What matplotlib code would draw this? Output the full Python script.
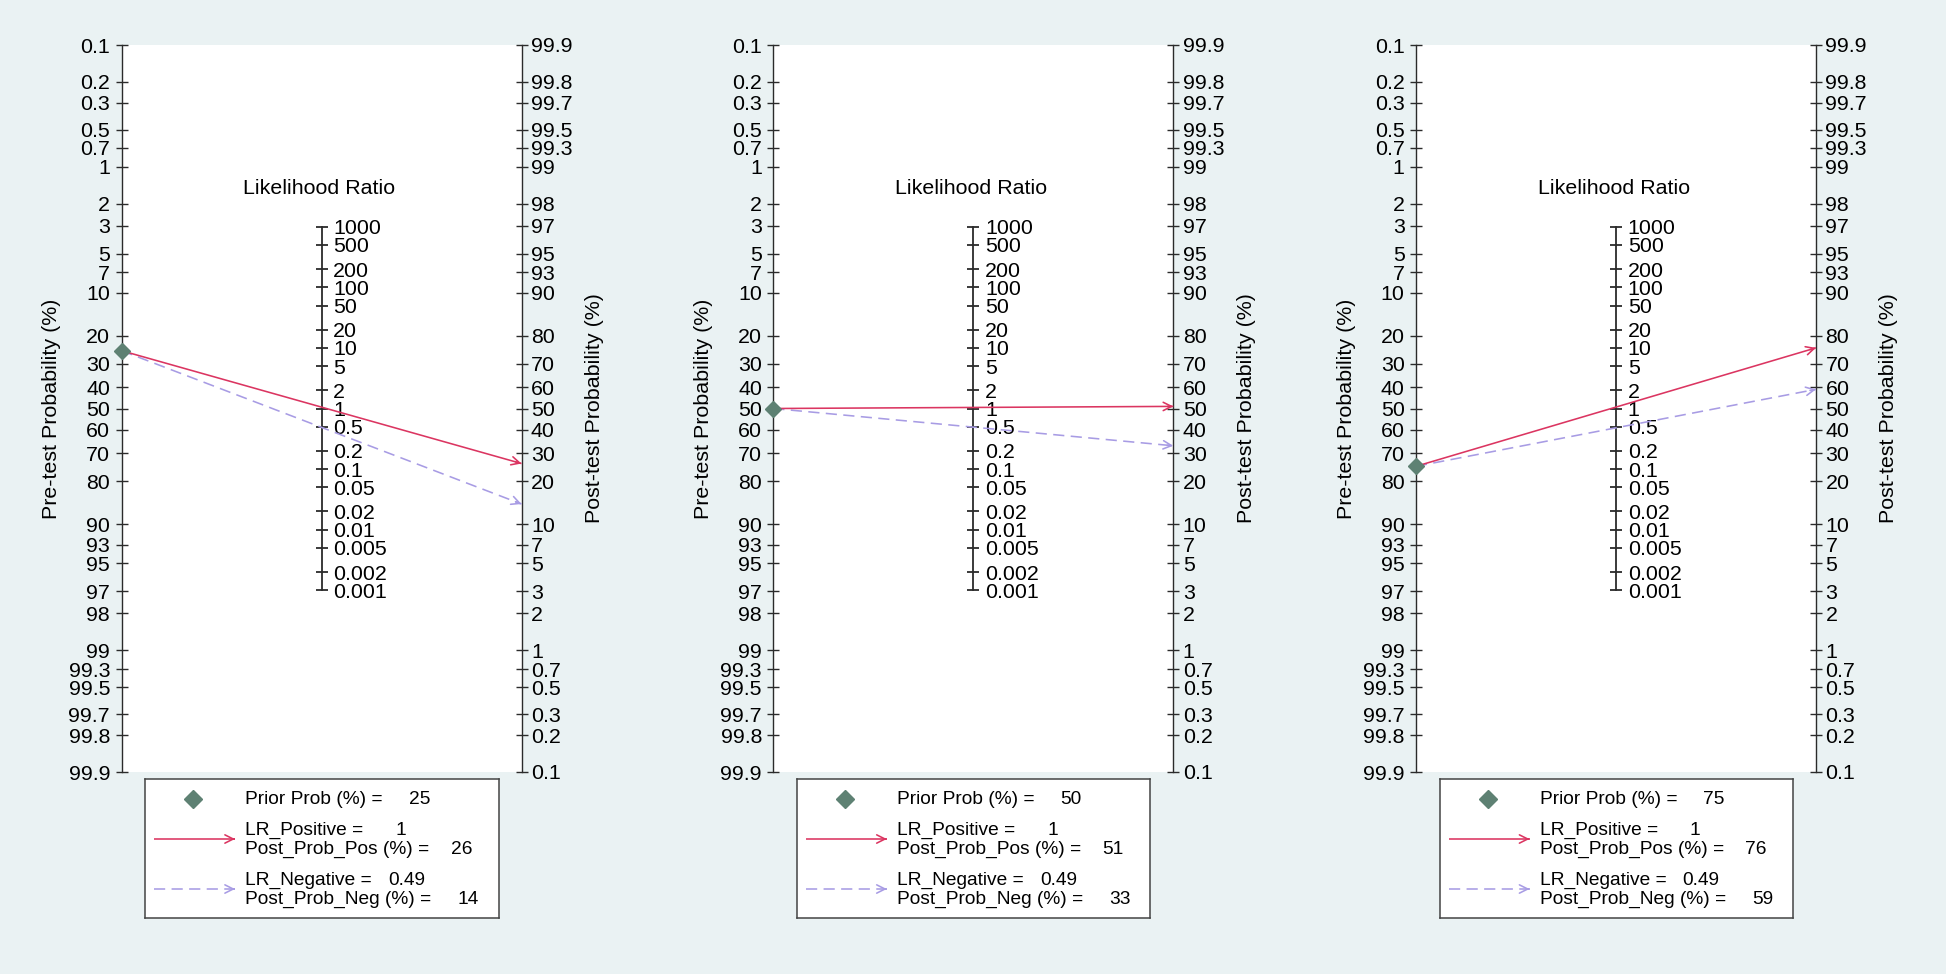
"""Fagan nomograms for three prior probabilities (25 / 50 / 75 %)."""

import numpy as np
import matplotlib
matplotlib.use("Agg")
import matplotlib.pyplot as plt

plt.rcParams["font.family"] = ["Liberation Sans", "DejaVu Sans"]

# ---------------------------------------------------------------------------
# Data
# ---------------------------------------------------------------------------
prior_prob    = [25, 50, 75]
lr_positive   = [1, 1, 1]
lr_negative   = [0.49, 0.49, 0.49]
post_prob_pos = [26, 51, 76]
post_prob_neg = [14, 33, 59]

pre_ticks  = [0.1, 0.2, 0.3, 0.5, 0.7, 1, 2, 3, 5, 7, 10, 20, 30, 40, 50,
              60, 70, 80, 90, 93, 95, 97, 98, 99, 99.3, 99.5, 99.7, 99.8, 99.9]
post_ticks = [99.9, 99.8, 99.7, 99.5, 99.3, 99, 98, 97, 95, 93, 90, 80, 70,
              60, 50, 40, 30, 20, 10, 7, 5, 3, 2, 1, 0.7, 0.5, 0.3, 0.2, 0.1]
lr_ticks   = [1000, 500, 200, 100, 50, 20, 10, 5, 2, 1, 0.5, 0.2, 0.1,
              0.05, 0.02, 0.01, 0.005, 0.002, 0.001]

# ---------------------------------------------------------------------------
# Style
# ---------------------------------------------------------------------------
BG          = "#EAF2F3"
POS_COLOR   = "#DB3561"
NEG_COLOR   = "#A89CE4"
PRIOR_COLOR = "#5E8173"
AXIS_COLOR  = "#2b2b2b"
FS_TICK     = 15.4
FS_LEG      = 13.8

W, H = 1946, 974
panel_left = [121.5, 773.3, 1416]   # pixel x of each pre-test axis
AX_W = 400
AX_TOP, AX_BOT = 45, 772


def logit(p):
    p = np.asarray(p, dtype=float) / 100.0
    return np.log(p / (1 - p))


YMAX = float(logit(99.9))


def arrow_line(ax, x0, y0, x1, y1, color, dashed=False):
    kw = dict(color=color, lw=1.15, solid_capstyle="butt", zorder=4)
    if dashed:
        kw["dashes"] = (7, 4)
    ax.plot([x0, x1], [y0, y1], clip_on=False, **kw)
    # open arrowhead at the end
    f = 0.985
    ax.annotate("", xy=(x1, y1),
                xytext=(x0 + (x1 - x0) * f, y0 + (y1 - y0) * f),
                arrowprops=dict(arrowstyle="->,head_length=0.6,head_width=0.3",
                                color=color, lw=1.15, shrinkA=0, shrinkB=0,
                                mutation_scale=10),
                annotation_clip=False, zorder=4)


fig = plt.figure(figsize=(W / 100, H / 100), dpi=100, facecolor=BG)

for i in range(len(prior_prob)):
    x0 = panel_left[i]
    rect = [x0 / W, 1 - AX_BOT / H, AX_W / W, (AX_BOT - AX_TOP) / H]

    # --- pre-test axis (left) ---
    ax = fig.add_axes(rect)
    ax.set_facecolor("white")
    ax.set_xlim(-1, 1)
    ax.set_ylim(-YMAX, YMAX)
    ax.set_xticks([])
    ax.set_yticks(-logit(pre_ticks))
    ax.set_yticklabels([f"{v:g}" for v in pre_ticks])
    for s in ("top", "bottom", "right"):
        ax.spines[s].set_visible(False)
    ax.spines["left"].set_color(AXIS_COLOR)
    ax.spines["left"].set_linewidth(1.0)
    ax.tick_params(axis="y", direction="inout", length=8, width=1.0,
                   color=AXIS_COLOR, labelsize=FS_TICK, pad=4.2)
    ax.set_ylabel("Pre-test Probability (%)", fontsize=FS_TICK)
    ax.yaxis.label.set_va("center")
    ax.yaxis.set_label_coords(-69.5 / AX_W, 0.5)

    # --- post-test axis (right) ---
    ax_r = ax.twinx()
    ax_r.set_ylim(-YMAX, YMAX)
    ax_r.set_yticks(logit(post_ticks))
    ax_r.set_yticklabels([f"{v:g}" for v in post_ticks])
    for s in ("top", "bottom", "left"):
        ax_r.spines[s].set_visible(False)
    ax_r.spines["right"].set_color(AXIS_COLOR)
    ax_r.spines["right"].set_linewidth(1.0)
    ax_r.tick_params(axis="y", direction="inout", length=8, width=1.0,
                     color=AXIS_COLOR, labelsize=FS_TICK, pad=2.8)
    ax_r.set_ylabel("Post-test Probability (%)", fontsize=FS_TICK,
                    rotation=90)
    ax_r.yaxis.label.set_va("center")
    ax_r.yaxis.set_label_coords(1 + 73 / AX_W, 0.5)

    # --- likelihood ratio axis (middle) ---
    ax_lr = ax.twinx()
    ax_lr.set_ylim(-YMAX, YMAX)
    lr_pos = np.log(lr_ticks) / 2
    ax_lr.set_yticks(lr_pos)
    ax_lr.set_yticklabels([f"{v:g}" for v in lr_ticks])
    for s in ("top", "bottom", "left"):
        ax_lr.spines[s].set_visible(False)
    ax_lr.spines["right"].set_position(("axes", 0.5))
    ax_lr.spines["right"].set_bounds(lr_pos.min(), lr_pos.max())
    ax_lr.spines["right"].set_color(AXIS_COLOR)
    ax_lr.spines["right"].set_linewidth(1.3)
    ax_lr.tick_params(axis="y", direction="inout", length=9, width=1.3,
                      color=AXIS_COLOR, labelsize=FS_TICK, pad=4.0)
    ax.text(0.495, 0.803, "Likelihood Ratio", transform=ax.transAxes,
            ha="center", va="center", fontsize=FS_TICK)

    # --- lines ---
    y_pre = -float(logit(prior_prob[i]))
    arrow_line(ax_lr, -1, y_pre, 1, float(logit(post_prob_neg[i])),
               NEG_COLOR, dashed=True)
    arrow_line(ax_lr, -1, y_pre, 1, float(logit(post_prob_pos[i])),
               POS_COLOR)
    ax_lr.set_xlim(-1, 1)
    ax_lr.plot([-1], [y_pre], marker="D", ms=7.8, color=PRIOR_COLOR,
               ls="none", clip_on=False, zorder=6)

    # --- legend box ---
    lx, ly, lw_, lh = x0 + 23.5, 779, 353.5, 139
    lax = fig.add_axes([lx / W, 1 - (ly + lh) / H, lw_ / W, lh / H])
    lax.set_xlim(0, lw_)
    lax.set_ylim(lh, 0)
    lax.set_xticks([])
    lax.set_yticks([])
    for s in lax.spines.values():
        s.set_color("#444444")
        s.set_linewidth(1.1)
    lax.plot([48], [20], marker="D", ms=9, color=PRIOR_COLOR, ls="none")
    arrow_line(lax, 9, 60, 90, 60, POS_COLOR)
    arrow_line(lax, 9, 110, 90, 110, NEG_COLOR, dashed=True)

    rows = [
        ("Prior Prob (%) =",     f"{prior_prob[i]:g}",    20.0, 285),
        ("LR_Positive =",        f"{lr_positive[i]:g}",   51.7, 261),
        ("Post_Prob_Pos (%) =",  f"{post_prob_pos[i]:g}", 70.0, 327),
        ("LR_Negative =",        f"{lr_negative[i]:g}",   101.7, 280),
        ("Post_Prob_Neg (%) =",  f"{post_prob_neg[i]:g}", 120.0, 334),
    ]
    for label, val, yy, xr in rows:
        lax.text(100, yy, label, ha="left", va="center", fontsize=FS_LEG)
        lax.text(xr, yy, val, ha="right", va="center", fontsize=FS_LEG)

fig.savefig("out.png", dpi=100, facecolor=BG)
